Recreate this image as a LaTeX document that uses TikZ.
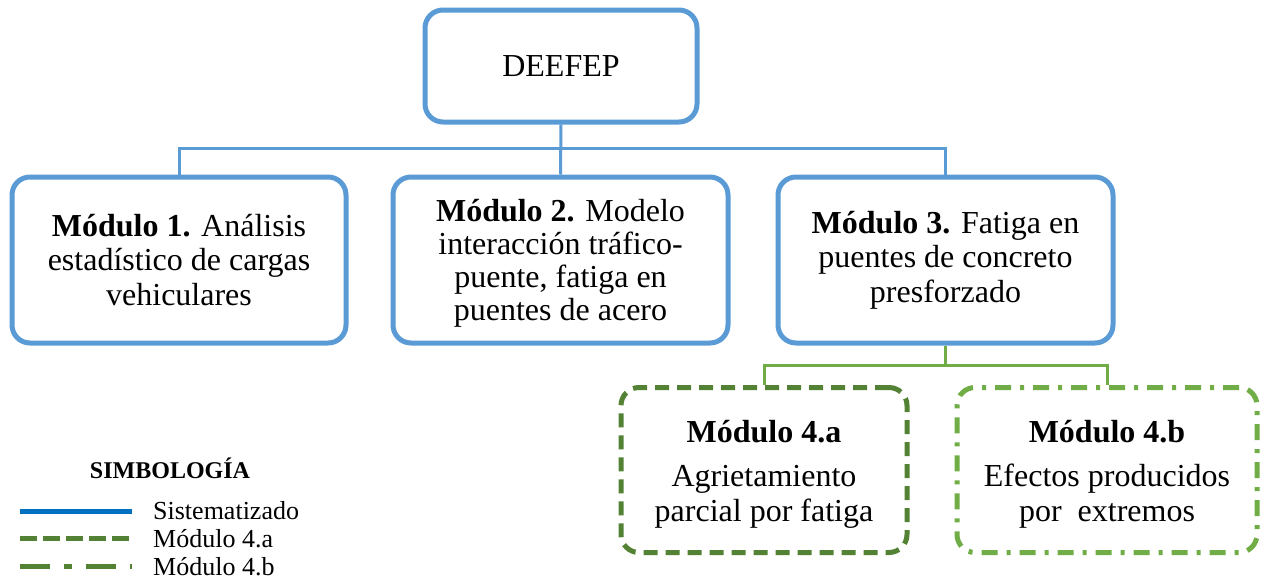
\documentclass[tikz,border=0pt]{standalone}
\usepackage{fontspec}
\setmainfont{Liberation Serif}
\usetikzlibrary{calc}
\definecolor{boxblue}{HTML}{5B9BD5}
\definecolor{legblue}{HTML}{0070C0}
\definecolor{dkgreen}{HTML}{548235}
\definecolor{ltgreen}{HTML}{70AD47}
\tikzset{
  bluebox/.style={draw=boxblue, line width=5pt, rounded corners=18pt, fill=white, align=center, inner sep=0pt},
  dashbox/.style={draw=dkgreen, line width=5pt, rounded corners=18pt, dash pattern=on 14pt off 8pt, align=center, inner sep=0pt},
  dotbox/.style={draw=ltgreen, line width=5pt, rounded corners=18pt, dash pattern=on 16pt off 9pt on 4pt off 9pt, align=center, inner sep=0pt},
  blueconn/.style={draw=boxblue, line width=3pt},
  greenconn/.style={draw=ltgreen, line width=3pt},
  bigtext/.style={font=\fontsize{32}{34.5}\selectfont},
  legtext/.style={font=\fontsize{26}{28}\selectfont, anchor=west, inner sep=0pt},
}
\begin{document}
\begin{tikzpicture}[x=1pt,y=-1pt]
\useasboundingbox (0,0) rectangle (1270,581);
% boxes
\node[bluebox, bigtext, minimum width=272pt, minimum height=112pt] (top) at (561,66) {DEEFEP};
\node[bluebox, bigtext, minimum width=334pt, minimum height=166pt] (m1) at (179,260)
  {\textbf{Módulo 1.} Análisis\\estadístico de cargas\\vehiculares};
\node[bluebox, minimum width=335pt, minimum height=166pt] (m2) at (560.5,260) {};
\node[font=\fontsize{32}{33}\selectfont, align=center, inner sep=0pt] (m2text) at (560.5,263)
  {\textbf{Módulo 2.} Modelo\\interacción tráfico-\\puente, fatiga en\\puentes de acero};
\node[bluebox, bigtext, minimum width=335pt, minimum height=166pt] (m3) at (945.5,260)
  {\textbf{Módulo 3.} Fatiga en\\puentes de concreto\\presforzado};
\node[dashbox, minimum width=286pt, minimum height=165pt] (a) at (764,470) {};
\node[dotbox, minimum width=300pt, minimum height=165pt] (b) at (1107,470) {};
\node[bigtext, align=center, inner sep=0pt] (atext) at (764,474)
  {\textbf{Módulo 4.a}\\[10pt]Agrietamiento\\parcial por fatiga};
\node[bigtext, align=center, inner sep=0pt] (btext) at (1107,474)
  {\textbf{Módulo 4.b}\\[10pt]Efectos producidos\\por\ \ extremos};
% blue connectors
\coordinate (bus) at (561,148);
\draw[blueconn] (top.south) -- (m2.north);
\draw[blueconn] (m1.north) |- (bus) -| (m3.north);
% green connectors
\coordinate (gbus) at ($(m3.south)+(0,20)$);
\draw[greenconn] (m3.south) -- (gbus);
\draw[greenconn] (a.north) |- (gbus) -| (b.north);
% legend
\node[font=\bfseries\fontsize{24}{26}\selectfont, inner sep=0pt] (legtitle) at (170,468) {SIMBOLOGÍA};
\coordinate (l1a) at (20,511); \coordinate (l1b) at (132,511);
\coordinate (l2a) at (20,538); \coordinate (l2b) at (132,538);
\coordinate (l3a) at (20,566); \coordinate (l3b) at (132,566);
\draw[legblue, line width=5pt] (l1a) -- (l1b);
\draw[dkgreen, line width=5pt, dash pattern=on 17pt off 6pt] (l2a) -- (l2b);
\draw[dkgreen, line width=5pt, dash pattern=on 30pt off 14pt on 8pt off 14pt] (l3a) -- (l3b);
\node[legtext] (t1) at (153,511) {Sistematizado};
\node[legtext] (t2) at (153,539) {Módulo 4.a};
\node[legtext] (t3) at (153,567) {Módulo 4.b};
\end{tikzpicture}
\end{document}
